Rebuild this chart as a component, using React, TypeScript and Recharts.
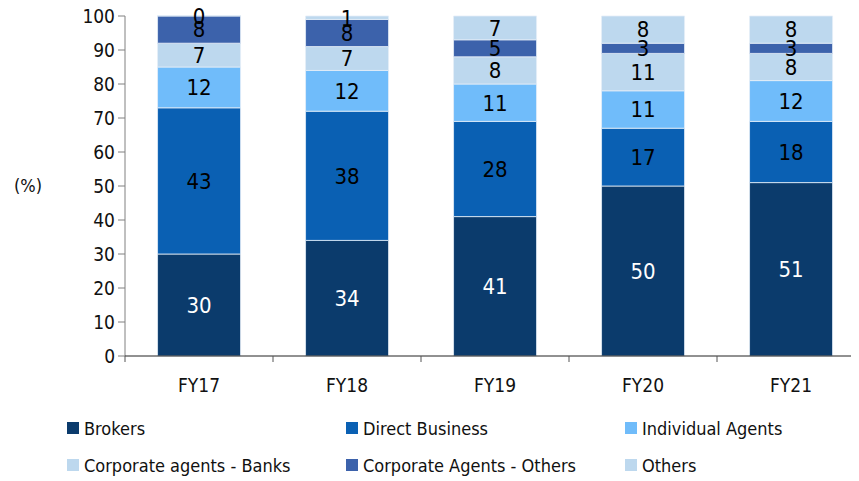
import { BarChart, Bar, XAxis, YAxis, LabelList } from 'recharts'

// Distribution mix by channel (%), FY17–FY21
const YEARS = ['FY17', 'FY18', 'FY19', 'FY20', 'FY21']
const BROKERS = [30, 34, 41, 50, 51]
const DIRECT = [43, 38, 28, 17, 18]
const INDIVIDUAL = [12, 12, 11, 11, 12]
const CORP_BANKS = [7, 7, 8, 11, 8]
const CORP_OTHERS = [8, 8, 5, 3, 3]
const OTHERS = [0, 1, 7, 8, 8]
const Y_TICKS = [0, 10, 20, 30, 40, 50, 60, 70, 80, 90, 100]

const FONT = "'DejaVu Sans Condensed', 'DejaVu Sans', sans-serif"

const SERIES = [
  { key: 'brokers', label: 'Brokers', color: '#0B3B6C', text: '#FFFFFF' },
  { key: 'direct', label: 'Direct Business', color: '#0A60B3', text: '#000000' },
  { key: 'individual', label: 'Individual Agents', color: '#70BCFA', text: '#000000' },
  { key: 'banks', label: 'Corporate agents - Banks', color: '#BDD8EE', text: '#000000' },
  { key: 'corpOthers', label: 'Corporate Agents - Others', color: '#3C62AB', text: '#000000' },
  { key: 'others', label: 'Others', color: '#BDD8EE', text: '#000000' },
]

const data = YEARS.map((year, i) => ({
  year,
  brokers: BROKERS[i],
  direct: DIRECT[i],
  individual: INDIVIDUAL[i],
  banks: CORP_BANKS[i],
  corpOthers: CORP_OTHERS[i],
  others: OTHERS[i],
}))

/** Etiqueta centrada + marca de separación en el borde izquierdo de la banda (estilo Excel). */
function XTick(props: any) {
  const { x, y, payload } = props
  const half = payload?.offset ?? 74
  return (
    <g>
      <line x1={x - half} x2={x - half} y1={y} y2={y + 6} stroke="#555" strokeWidth={1} />
      <text x={x} y={y + 29} textAnchor="middle" dominantBaseline="central" fontSize={19} fill="#111" fontFamily={FONT}>
        {payload.value}
      </text>
    </g>
  )
}

export default function App() {
  return (
    <div style={{ position: 'relative', width: 851, height: 473, overflow: 'hidden', fontFamily: FONT }}>
      <BarChart
        width={860}
        height={400}
        data={data}
        margin={{ top: 8, right: 3, bottom: 12, left: 0 }}
        barCategoryGap="22%"
        style={{ overflow: 'visible' }}
      >
        <YAxis
          type="number"
          domain={[0, 100]}
          ticks={Y_TICKS}
          interval={0}
          width={117}
          tickSize={7}
          tickMargin={3}
          axisLine={{ stroke: '#808080' }}
          tickLine={{ stroke: '#808080' }}
          tick={{ fontSize: 19, fill: '#111', fontFamily: FONT }}
          label={{ value: '(%)', position: 'insideLeft', offset: 6, fontSize: 18, fill: '#111', fontFamily: FONT }}
        />
        <XAxis
          dataKey="year"
          height={40}
          interval={0}
          tickLine={false}
          tickSize={0}
          tickMargin={0}
          axisLine={{ stroke: '#222' }}
          tick={<XTick />}
        />
        {SERIES.map((s) => (
          <Bar
            key={s.key}
            dataKey={s.key}
            stackId="mix"
            fill={s.color}
            stroke="#E4EDF7"
            strokeWidth={0.8}
            minPointSize={s.key === 'others' ? 0.5 : 0}
            isAnimationActive={false}
          >
            <LabelList
              dataKey={s.key}
              position="center"
              fill={s.text}
              fontSize={22}
              fontFamily={FONT}
            />
          </Bar>
        ))}
      </BarChart>

      {/* Leyenda en 3 columnas */}
      <div
        style={{
          position: 'absolute',
          left: 59,
          top: 410,
          display: 'grid',
          gridTemplateColumns: '279px 279px 220px',
          rowGap: 17,
        }}
      >
        {SERIES.map((s) => (
          <div key={s.key} style={{ display: 'flex', alignItems: 'center', height: 20, fontSize: 18, color: '#111' }}>
            <span style={{ width: 12, height: 12, background: s.color, display: 'inline-block', marginRight: 5 }} />
            {s.label}
          </div>
        ))}
      </div>
    </div>
  )
}
